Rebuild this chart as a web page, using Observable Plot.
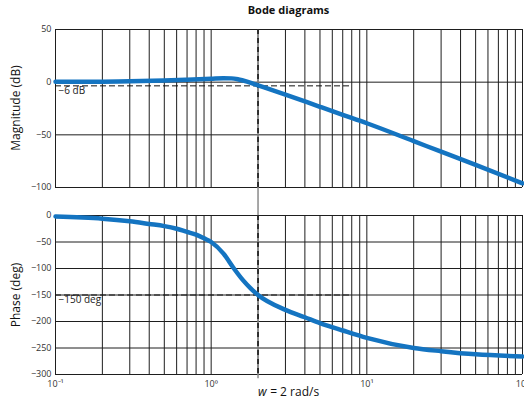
<!DOCTYPE html>
<html><head><meta charset="utf-8">
<script src="https://cdn.jsdelivr.net/npm/d3@7"></script>
<script src="https://cdn.jsdelivr.net/npm/@observablehq/plot@0.6"></script>
<style>
html,body{margin:0;padding:0;background:#fff;overflow:hidden;}
#wrap{position:relative;width:524px;height:400px;overflow:hidden;font-family:"Open Sans",sans-serif;color:#111;}
#wrap svg{position:absolute;left:0;overflow:hidden;}
.title{position:absolute;top:3px;left:55px;width:467px;text-align:center;font-weight:bold;font-size:11px;line-height:14px;}
.ylab{position:absolute;width:200px;text-align:center;transform:rotate(-90deg);font-size:12px;line-height:16px;white-space:nowrap;}
</style></head><body><div id="wrap"></div>
<script>
// Magnitude curve
const magFreq = [0.1, 0.2, 0.3, 0.5, 0.7, 1, 1.2, 1.35, 1.5, 1.7, 2, 3, 5, 7, 10, 20, 30, 50, 100];
const magDb   = [0.3, 0.5, 0.8, 1.5, 2.3, 3.2, 3.7, 3.6, 2.6, 0.5, -3, -11.8, -23.4, -31, -39, -56, -66, -78.5, -96];
// Phase curve
const phFreq = [0.1, 0.2, 0.3, 0.4, 0.5, 0.6, 0.7, 0.8, 0.9, 1, 1.2, 1.4, 1.6, 1.8, 2, 3, 4, 5, 7, 10, 20, 30, 50, 100];
const phDeg  = [-2, -6, -11, -16, -20, -25, -31, -36, -43, -50, -72, -100, -122, -138, -150, -178, -192, -203, -217, -231, -250, -256, -262, -266];
// Grid and ticks
const gridFreq = [0.1,0.2,0.3,0.4,0.5,0.6,0.7,0.8,0.9,1,2,3,4,5,6,7,8,9,10,20,30,40,50,60,70,80,90,100];
const magTicks = [50, 0, -50, -100];
const phaseTicks = [0, -50, -100, -150, -200, -250, -300];
const xTickValues = [0.1, 1, 10, 100];
const xTickLabels = ["10\u207B\u00B9", "10\u2070", "10\u00B9", "10\u00B2"];
// Annotations
const crossFreq = 2;
const magRef = -3.5, magRefLabel = "\u22126 dB";
const phaseRef = -150, phaseRefLabel = "\u2212150 deg";
const refLineEnd = 8;
const titleText = "Bode diagrams";
const magLabel = "Magnitude (dB)";
const phaseLabel = "Phase (deg)";
const wLabelVar = "w", wLabelRest = " = 2 rad/s";

const blue = "#1474c1";
const gridColor = "#1e1e1e";
const magData = magFreq.map((f, i) => ({f, v: magDb[i]}));
const phData = phFreq.map((f, i) => ({f, v: phDeg[i]}));
const plotStyle = {fontFamily: "'Open Sans', sans-serif", fontSize: "9px", color: "#222", background: "transparent", overflow: "hidden"};

const magPlot = Plot.plot({
  width: 524, height: 200,
  marginLeft: 55, marginRight: 2, marginTop: 29, marginBottom: 13,
  style: plotStyle,
  x: {type: "log", domain: [0.1, 100], axis: null},
  y: {domain: [-100, 50]},
  marks: [
    Plot.ruleX(gridFreq, {stroke: gridColor, strokeWidth: 1}),
    Plot.ruleY(magTicks, {stroke: gridColor, strokeWidth: 1}),
    Plot.ruleX([crossFreq], {y1: -100, y2: -120, stroke: "#8a8a8a", strokeWidth: 1.5}),
    Plot.ruleX([crossFreq], {stroke: "#8a8a8a", strokeWidth: 1.5}),
    Plot.ruleX([crossFreq], {stroke: "#111", strokeWidth: 1.5, strokeDasharray: "5,4"}),
    Plot.ruleY([magRef], {x1: 0.1, x2: refLineEnd, stroke: "#111", strokeWidth: 1, strokeDasharray: "6,3"}),
    Plot.line(magData, {x: "f", y: "v", stroke: blue, strokeWidth: 4.5, curve: "monotone-x"}),
    Plot.text([magRefLabel], {x: 0.1, y: magRef, text: d => d, textAnchor: "start", lineAnchor: "top", dx: 3, dy: 1, fontSize: 10, fill: "#222"}),
    Plot.axisY({ticks: magTicks, tickSize: 0, tickPadding: 4, label: null, fill: "#333"})
  ]
});
magPlot.style.top = "0px";

const phasePlot = Plot.plot({
  width: 524, height: 200,
  marginLeft: 55, marginRight: 2, marginTop: 15, marginBottom: 26,
  style: plotStyle,
  x: {type: "log", domain: [0.1, 100]},
  y: {domain: [-300, 0]},
  marks: [
    Plot.ruleX(gridFreq, {stroke: gridColor, strokeWidth: 1}),
    Plot.ruleY(phaseTicks, {stroke: gridColor, strokeWidth: 1}),
    Plot.ruleX([crossFreq], {y1: 0, y2: 40, stroke: "#8a8a8a", strokeWidth: 1.5}),
    Plot.ruleX([crossFreq], {y1: -300, y2: -308, stroke: "#8a8a8a", strokeWidth: 1.5}),
    Plot.ruleX([crossFreq], {stroke: "#8a8a8a", strokeWidth: 1.5}),
    Plot.ruleX([crossFreq], {stroke: "#111", strokeWidth: 1.5, strokeDasharray: "5,4"}),
    Plot.ruleY([phaseRef], {x1: 0.1, x2: refLineEnd, stroke: "#111", strokeWidth: 1, strokeDasharray: "6,3"}),
    Plot.line(phData, {x: "f", y: "v", stroke: blue, strokeWidth: 4.5, curve: "monotone-x"}),
    Plot.text([phaseRefLabel], {x: 0.1, y: phaseRef, text: d => d, textAnchor: "start", lineAnchor: "top", dx: 3, dy: 1, fontSize: 10, fill: "#222"}),
    Plot.axisY({ticks: phaseTicks, tickSize: 0, tickPadding: 4, label: null, fill: "#333"}),
    Plot.axisX({ticks: xTickValues, tickFormat: d => xTickLabels[xTickValues.indexOf(d)], tickSize: 0, tickPadding: 6, label: null, fill: "#333"}),
    Plot.text([wLabelVar], {x: crossFreq, frameAnchor: "bottom", text: d => d, textAnchor: "start", lineAnchor: "bottom", dy: 21, fontSize: 12, fontStyle: "italic", fill: "#111"}),
    Plot.text([wLabelRest], {x: crossFreq, frameAnchor: "bottom", text: d => d, textAnchor: "start", lineAnchor: "bottom", dx: 9, dy: 21, fontSize: 12, fill: "#111"})
  ]
});
phasePlot.style.top = "200px";

const wrap = document.getElementById("wrap");
wrap.appendChild(magPlot);
wrap.appendChild(phasePlot);

const t = document.createElement("div");
t.className = "title"; t.textContent = titleText; wrap.appendChild(t);
const l1 = document.createElement("div");
l1.className = "ylab"; l1.textContent = magLabel;
l1.style.left = (16 - 100) + "px"; l1.style.top = (108 - 8) + "px"; wrap.appendChild(l1);
const l2 = document.createElement("div");
l2.className = "ylab"; l2.textContent = phaseLabel;
l2.style.left = (16 - 100) + "px"; l2.style.top = (295 - 8) + "px"; wrap.appendChild(l2);
</script>
</body></html>
